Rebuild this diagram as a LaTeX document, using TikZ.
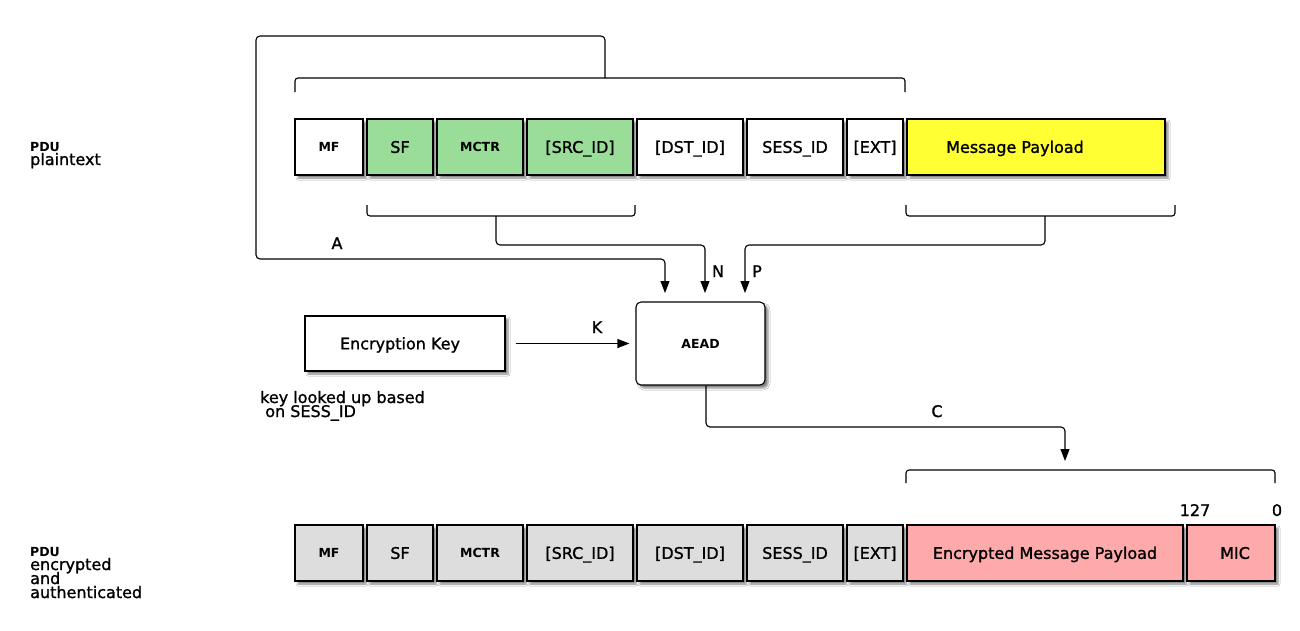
\documentclass[tikz,border=0pt]{standalone}
\usepackage{fontspec}
\setmainfont{DejaVu Sans}[FakeBold=1.2]
\newfontfamily\boldface{DejaVu Sans Bold}
\usetikzlibrary{shadows.blur,arrows.meta}
\definecolor{fgreen}{RGB}{153,221,153}
\definecolor{fyellow}{RGB}{255,255,51}
\definecolor{fpink}{RGB}{255,170,170}
\definecolor{fgray}{RGB}{221,221,221}
\begin{document}
\begin{tikzpicture}[x=1pt,y=-1pt,
  bigtxt/.style={font=\fontsize{16}{14}\selectfont},
  smalltxt/.style={font=\fontsize{12.5}{14}\boldface},
  boxshadow/.style={blur shadow={shadow xshift=3pt,shadow yshift=-3pt,shadow blur radius=2pt,shadow opacity=50}},
  field/.style={draw, line width=1.1pt, inner sep=0pt, minimum height=56, bigtxt,
    text height=11.7pt, text depth=0pt, boxshadow},
  smallfield/.style={field, smalltxt, text height=9.1pt},
  conn/.style={draw, line width=1.1pt, rounded corners=4},
  arr/.style={conn, -{Triangle[length=12pt,width=9pt]}},
  lbl/.style={bigtxt, anchor=base, inner sep=0pt},
  side/.style={anchor=base west, inner sep=0pt},
]
\useasboundingbox[fill=white] (0,0) rectangle (1300,630);

% plaintext PDU
\node[smallfield, fill=white,  minimum width=68]  (mf)   at (329,147)  {MF};
\node[field,      fill=fgreen, minimum width=66]  (sf)   at (400,147)  {SF};
\node[smallfield, fill=fgreen, minimum width=86]  (mctr) at (480,147)  {MCTR};
\node[field,      fill=fgreen, minimum width=106] (src)  at (580,147)  {[SRC\_ID]};
\node[field,      fill=white,  minimum width=106] (dst)  at (690,147)  {[DST\_ID]};
\node[field,      fill=white,  minimum width=96]  (sess) at (795,147)  {SESS\_ID};
\node[field,      fill=white,  minimum width=56]  (ext)  at (875,147)  {[EXT]};
\node[field,      fill=fyellow,minimum width=258] (pay)  at (1036,147) {Message Payload\hspace*{42pt}};

% encrypted PDU
\node[smallfield, fill=fgray, minimum width=68]  (emf)   at (329,553)  {MF};
\node[field,      fill=fgray, minimum width=66]  (esf)   at (400,553)  {SF};
\node[smallfield, fill=fgray, minimum width=86]  (emctr) at (480,553)  {MCTR};
\node[field,      fill=fgray, minimum width=106] (esrc)  at (580,553)  {[SRC\_ID]};
\node[field,      fill=fgray, minimum width=106] (edst)  at (690,553)  {[DST\_ID]};
\node[field,      fill=fgray, minimum width=96]  (esess) at (795,553)  {SESS\_ID};
\node[field,      fill=fgray, minimum width=56]  (eext)  at (875,553)  {[EXT]};
\node[field,      fill=fpink, minimum width=276] (epay)  at (1045,553) {Encrypted Message Payload};
\node[field,      fill=fpink, minimum width=88]  (mic)   at (1231,553) {\hspace*{8pt}MIC};

% key and AEAD
\node[field, fill=white, minimum width=200, minimum height=55] (key) at (405,343.5) {Encryption Key\hspace*{10pt}};
\node[smallfield, fill=white, minimum width=129, minimum height=83, rounded corners=5] (aead) at (700.5,343.5) {AEAD};

% left labels
\node[side, smalltxt] (l1) at (30,151) {PDU};
\node[side, bigtxt]   (l2) at (30,165) {plaintext};
\node[side, smalltxt] (l3) at (30,556) {PDU};
\node[side, bigtxt]   (l4) at (30,570) {encrypted};
\node[side, bigtxt]   (l5) at (30,584) {and};
\node[side, bigtxt]   (l6) at (30,598) {authenticated};
\node[side, bigtxt]   (n1) at (260,403) {key looked up based};
\node[side, bigtxt]   (n2) at (260,417) {\ on SESS\_ID};

% bracket over the whole header and payload (associated data)
\coordinate (tbL) at (295,92);
\coordinate (tbR) at (905,92);
\coordinate (tbM) at (605,78);
\draw[conn, rounded corners=3] (tbL) -- (295,78) -- (905,78) -- (tbR);

% bracket under SF..SRC_ID (nonce)
\coordinate (nbL) at (367,205);
\coordinate (nbR) at (635,205);
\coordinate (nbM) at (496,216);
\draw[conn, rounded corners=3] (nbL) -- (367,216) -- (635,216) -- (nbR);

% bracket under payload (plaintext)
\coordinate (pbL) at (906,205);
\coordinate (pbR) at (1175,205);
\coordinate (pbM) at (1045,216);
\draw[conn, rounded corners=3] (pbL) -- (906,216) -- (1175,216) -- (pbR);

% bracket over ciphertext and MIC
\coordinate (cbL) at (906,483);
\coordinate (cbR) at (1275,483);
\draw[conn, rounded corners=3] (cbL) -- (906,470) -- (1275,470) -- (cbR);

% AEAD inputs and output
\coordinate (inA) at (665,293);
\coordinate (inN) at (705,293);
\coordinate (inP) at (745,293);
\coordinate (outC) at (1065,461);
\draw[arr] (tbM) -- (605,36) -- (256,36) -- (256,259) -- (665,259) -- (inA);
\draw[arr] (nbM) -- (496,245) -- (705,245) -- (inN);
\draw[arr] (pbM) -- (1045,245) -- (745,245) -- (inP);
\draw[arr, shorten <=10pt, shorten >=6pt] (key.east) -- (aead.west);
\draw[arr] (aead.south -| 706,0) -- (706,427) -- (1065,427) -- (outC);

% connector labels
\node[lbl] (tA) at (337,249) {A};
\node[lbl] (tN) at (718,277) {N};
\node[lbl] (tP) at (757,277) {P};
\node[lbl] (tK) at (597,333) {K};
\node[lbl] (tC) at (937,417) {C};
\node[lbl] (t127) at (1195,516) {127};
\node[lbl] (t0) at (1277,516) {0};
\end{tikzpicture}
\end{document}
